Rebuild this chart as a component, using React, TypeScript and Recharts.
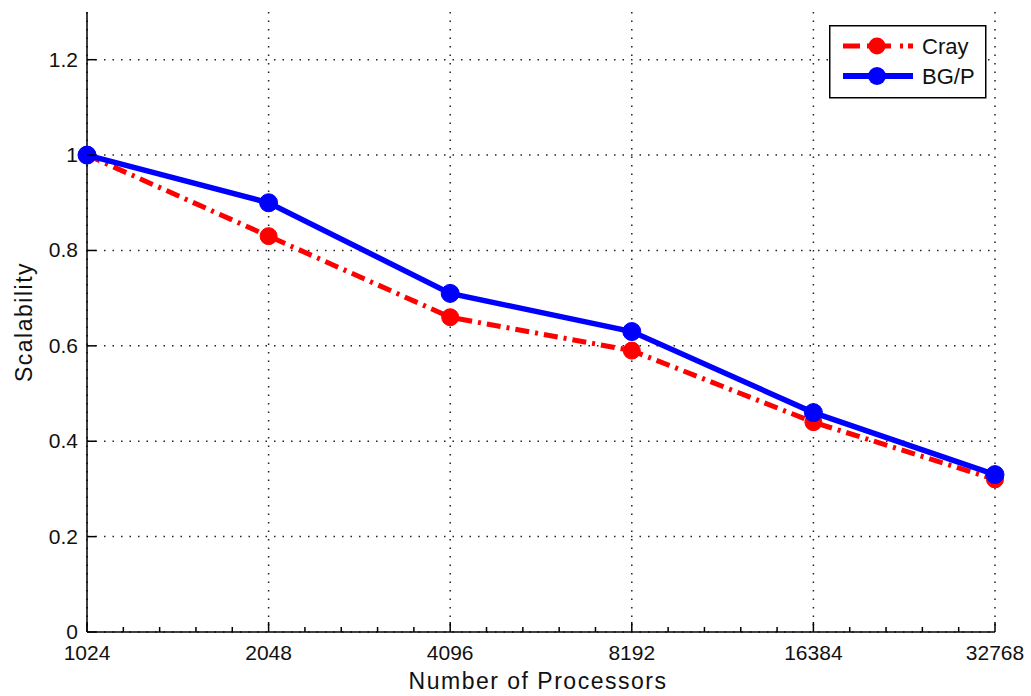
import React from "react";
import {
  LineChart,
  Line,
  XAxis,
  YAxis,
  CartesianGrid,
} from "recharts";

const processors = [1024, 2048, 4096, 8192, 16384, 32768];
const cray = [1.0, 0.83, 0.66, 0.59, 0.44, 0.32];
const bgp = [1.0, 0.9, 0.71, 0.63, 0.46, 0.33];
const yTicks = [0, 0.2, 0.4, 0.6, 0.8, 1, 1.2];

const majorTicks = processors.map((p) => Math.log2(p));
// 4 minor ticks between every pair of labelled ticks
const minorTicks = majorTicks.slice(0, -1).flatMap((m) => [0.2, 0.4, 0.6, 0.8].map((f) => m + f));
const allTicks = [...majorTicks, ...minorTicks].sort((a, b) => a - b);

const data = processors.map((p, i) => ({ lp: Math.log2(p), cray: cray[i], bgp: bgp[i] }));

const RED = "#ff0000";
const BLUE = "#0000ff";
const FONT = "'Liberation Sans', Arial, sans-serif";
const CRAY_DASH = "14 6 3 6";

const XTick = (props: any) => {
  const { x, y, payload } = props;
  const isMajor = majorTicks.some((m) => Math.abs(m - payload.value) < 1e-6);
  return (
    <g>
      <line x1={x} x2={x} y1={y} y2={y - (isMajor ? 10 : 5)} stroke="#000" strokeWidth={1.5} />
      {isMajor && (
        <text x={x} y={y + 28} textAnchor="middle" fontSize={21} fontFamily={FONT} fill="#111">
          {Math.round(Math.pow(2, payload.value))}
        </text>
      )}
    </g>
  );
};

const YTick = (props: any) => {
  const { x, y, payload } = props;
  return (
    <g>
      <line x1={x} x2={x + 9} y1={y} y2={y} stroke="#000" strokeWidth={1.5} />
      <text x={x - 9} y={y + 7} textAnchor="end" fontSize={21} fontFamily={FONT} fill="#111">
        {String(payload.value)}
      </text>
    </g>
  );
};

const dotOf = (color: string, r: number) => (props: any) => {
  const { cx, cy, index } = props;
  return <circle key={index} cx={cx} cy={cy} r={r} fill={color} stroke={color} strokeWidth={1} />;
};

const LegendBox = () => (
  <svg width={158} height={74} style={{ position: "absolute", left: 829, top: 25 }}>
    <rect x={0.75} y={0.75} width={156} height={72} fill="#fff" stroke="#000" strokeWidth={1.5} />
    <line x1={14} x2={31} y1={21} y2={21} stroke={RED} strokeWidth={5} />
    <line x1={38} x2={62} y1={21} y2={21} stroke={RED} strokeWidth={5} />
    <circle cx={48} cy={21} r={8.5} fill={RED} />
    <line x1={71} x2={84} y1={21} y2={21} stroke={RED} strokeWidth={5} strokeDasharray="3 5 5" />
    <text x={93} y={29} fontSize={22} fontFamily={FONT} fill="#111">Cray</text>
    <line x1={14} x2={84} y1={51} y2={51} stroke={BLUE} strokeWidth={6} />
    <circle cx={48} cy={51} r={9} fill={BLUE} />
    <text x={93} y={59} fontSize={22} fontFamily={FONT} fill="#111">BG/P</text>
  </svg>
);

export default function App() {
  return (
    <div style={{ position: "absolute", left: 0, top: 0, width: 1031, height: 696, background: "#fff" }}>
      <LineChart
        width={1031}
        height={696}
        data={data}
        margin={{ top: 12, right: 36, left: 0, bottom: 0 }}
      >
        <CartesianGrid
          stroke="#222"
          strokeWidth={1.5}
          strokeDasharray="1.5 7"
          verticalValues={majorTicks}
          horizontalValues={yTicks}
        />
        <XAxis
          dataKey="lp"
          type="number"
          domain={[10, 15]}
          ticks={allTicks}
          interval={0}
          height={64}
          tickSize={0}
          tickMargin={0}
          tick={<XTick />}
          axisLine={{ stroke: "#000", strokeWidth: 1.5 }}
          tickLine={false}
        />
        <YAxis
          type="number"
          domain={[0, 1.3]}
          ticks={yTicks}
          interval={0}
          width={87}
          tickSize={0}
          tickMargin={0}
          tick={<YTick />}
          axisLine={{ stroke: "#000", strokeWidth: 1.5 }}
          tickLine={false}
          allowDataOverflow
        />
        <Line
          dataKey="cray"
          stroke={RED}
          strokeWidth={5}
          strokeDasharray={CRAY_DASH}
          dot={dotOf(RED, 8.5)}
          isAnimationActive={false}
        />
        <Line
          dataKey="bgp"
          stroke={BLUE}
          strokeWidth={5.5}
          dot={dotOf(BLUE, 9)}
          isAnimationActive={false}
        />
        <text x={32} y={322} transform="rotate(-90 32 322)" textAnchor="middle" fontSize={23} letterSpacing={1.5} fontFamily={FONT} fill="#111">
          Scalability
        </text>
        <text x={538} y={689} textAnchor="middle" fontSize={23} letterSpacing={1.5} fontFamily={FONT} fill="#111">
          Number of Processors
        </text>
      </LineChart>
      <LegendBox />
    </div>
  );
}
